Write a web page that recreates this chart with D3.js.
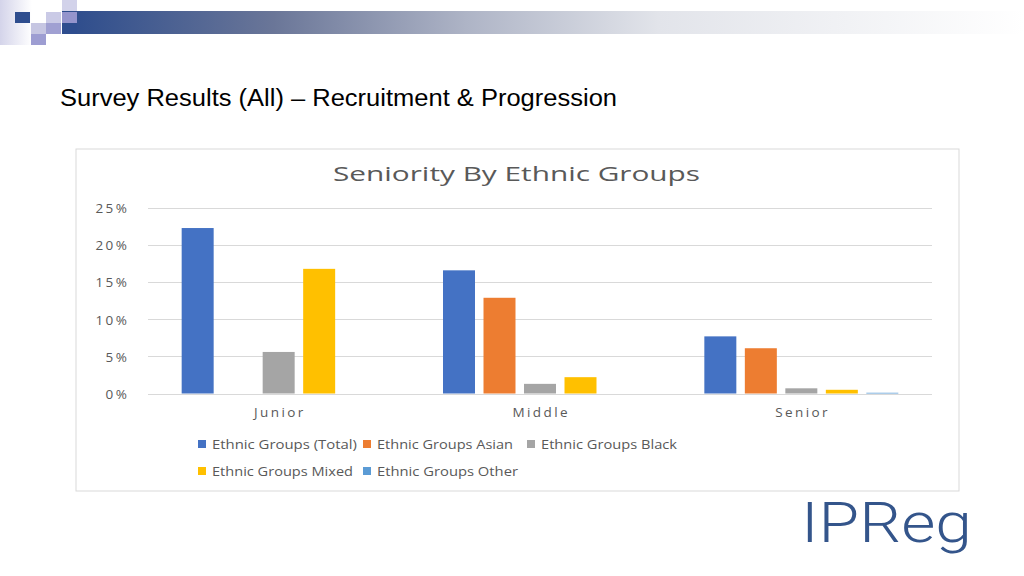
<!DOCTYPE html>
<html><head><meta charset="utf-8">
<script src="https://cdn.jsdelivr.net/npm/d3@7"></script>
<style>html,body{margin:0;padding:0;background:#fff;}svg{display:block;}</style>
</head><body>
<script>
const categories = ["Junior", "Middle", "Senior"];
const seriesNames = ["Ethnic Groups (Total)", "Ethnic Groups Asian", "Ethnic Groups Black", "Ethnic Groups Mixed", "Ethnic Groups Other"];
const totalVals = [0.223, 0.166, 0.077];
const asianVals = [0, 0.129, 0.061];
const blackVals = [0.056, 0.013, 0.007];
const mixedVals = [0.168, 0.022, 0.005];
const otherVals = [0, 0, 0.001];
const yTicks = [0, 0.05, 0.10, 0.15, 0.20, 0.25];
const colors = ["#4472C4", "#ED7D31", "#A5A5A5", "#FFC000", "#5B9BD5"];
const seriesValues = [totalVals, asianVals, blackVals, mixedVals, otherVals];

const W = 1024, H = 576;
const svg = d3.select("body").append("svg").attr("width", W).attr("height", H);
const defs = svg.append("defs");
const g1 = defs.append("linearGradient").attr("id", "hdr").attr("x1", "0").attr("x2", "1").attr("y1", "0").attr("y2", "0");
[["0", "#2B4B8C"], ["0.22", "#6A7698"], ["0.42", "#AEB4C6"], ["0.62", "#E2E4EA"], ["1", "#FFFFFF"]].forEach(s => g1.append("stop").attr("offset", s[0]).attr("stop-color", s[1]));
const g2 = defs.append("linearGradient").attr("id", "lft").attr("x1", "0").attr("x2", "1").attr("y1", "0").attr("y2", "0");
[["0", "#D4D4EA"], ["1", "#FFFFFF"]].forEach(s => g2.append("stop").attr("offset", s[0]).attr("stop-color", s[1]));

// header decoration
svg.append("rect").attr("x", 0).attr("y", 0).attr("width", 32).attr("height", 45).attr("fill", "url(#lft)");
svg.append("rect").attr("x", 62).attr("y", 11).attr("width", W - 62).attr("height", 23).attr("fill", "url(#hdr)");
const squares = [
  [15, 12, "#2E4D8E"], [46, 12, "#CACAE6"], [46, 23, "#A0A0D2"], [31, 23, "#C6C6E2"],
  [31, 34, "#9D9DD2"], [62, 0, "#D2D2EA"], [62, 12, "#9494CC"], [62, 23, "#2E4D8E"]
];
squares.forEach(s => svg.append("rect").attr("x", s[0]).attr("y", s[1]).attr("width", 15).attr("height", 11).attr("fill", s[2]));

// slide title
svg.append("text").attr("x", 60).attr("y", 106)
  .attr("font-family", "Liberation Sans, Arial, sans-serif").attr("font-size", 23)
  .attr("fill", "#000").attr("textLength", 557).attr("lengthAdjust", "spacingAndGlyphs")
  .text("Survey Results (All) – Recruitment & Progression");

// chart box
svg.append("rect").attr("x", 76).attr("y", 149).attr("width", 883).attr("height", 342)
  .attr("fill", "#fff").attr("stroke", "#D9D9D9").attr("stroke-width", 1);

svg.append("text").attr("x", 333).attr("y", 181)
  .attr("font-family", "Open Sans, sans-serif").attr("font-size", 20).attr("fill", "#595959")
  .attr("textLength", 367).attr("lengthAdjust", "spacingAndGlyphs")
  .text("Seniority By Ethnic Groups");

const x0 = d3.scaleBand().domain(categories).range([148, 932]);
const x1 = d3.scaleBand().domain(seriesNames).range([-101.25, 101.25]).paddingInner(0.21).paddingOuter(0.105);
const y = d3.scaleLinear().domain([0, 0.25]).range([393.5, 208]);

// gridlines
svg.append("g").selectAll("line").data(yTicks).join("line")
  .attr("x1", 148).attr("x2", 932).attr("y1", d => Math.round(y(d)) + 0.5).attr("y2", d => Math.round(y(d)) + 0.5)
  .attr("stroke", "#D9D9D9").attr("stroke-width", 1);

// y axis labels
const yAxis = svg.append("g").attr("transform", "translate(129.5,0)")
  .call(d3.axisLeft(y).tickValues(yTicks).tickSize(0).tickPadding(0).tickFormat(d => Math.round(d * 100) + "%"));
yAxis.select(".domain").remove();
yAxis.selectAll("text").attr("font-family", "Open Sans, sans-serif").attr("font-size", 13.5)
  .attr("fill", "#595959").attr("letter-spacing", "2.5px").attr("dy", "0.35em");

// bars
const data = [];
categories.forEach((c, ci) => seriesNames.forEach((s, si) => data.push({ c, s, si, v: seriesValues[si][ci] })));
svg.append("g").selectAll("rect").data(data).join("rect")
  .attr("x", d => x0(d.c) + x0.bandwidth() / 2 + x1(d.s))
  .attr("width", x1.bandwidth())
  .attr("y", d => y(d.v))
  .attr("height", d => y(0) - y(d.v))
  .attr("fill", d => colors[d.si]);

// x axis labels
const xAxis = svg.append("g").attr("transform", "translate(1.2,404)")
  .call(d3.axisBottom(x0).tickSize(0).tickPadding(0));
xAxis.select(".domain").remove();
xAxis.selectAll("text").attr("font-family", "Open Sans, sans-serif").attr("font-size", 13.5)
  .attr("fill", "#595959").attr("letter-spacing", "2.4px").attr("dy", "0.95em");

// legend
const legendPos = [
  { x: 198, y: 440, w: 145 }, { x: 363, y: 440, w: 136 }, { x: 527, y: 440, w: 136 },
  { x: 198, y: 467, w: 141 }, { x: 363, y: 467, w: 141 }
];
const lg = svg.append("g").selectAll("g").data(seriesNames).join("g")
  .attr("transform", (d, i) => `translate(${legendPos[i].x},${legendPos[i].y})`);
lg.append("rect").attr("width", 8).attr("height", 8).attr("fill", (d, i) => colors[i]);
lg.append("text").attr("x", 14).attr("y", 8.5)
  .attr("font-family", "Open Sans, sans-serif").attr("font-size", 13.5).attr("fill", "#595959")
  .attr("textLength", (d, i) => legendPos[i].w).attr("lengthAdjust", "spacingAndGlyphs")
  .text(d => d);

// logo
svg.append("text").attr("x", 801).attr("y", 542)
  .attr("font-family", "Roboto, Lato, sans-serif").attr("font-weight", 300).attr("font-size", 56)
  .attr("fill", "#34558B").attr("textLength", 171).attr("lengthAdjust", "spacingAndGlyphs")
  .text("IPReg");
</script>
</body></html>
